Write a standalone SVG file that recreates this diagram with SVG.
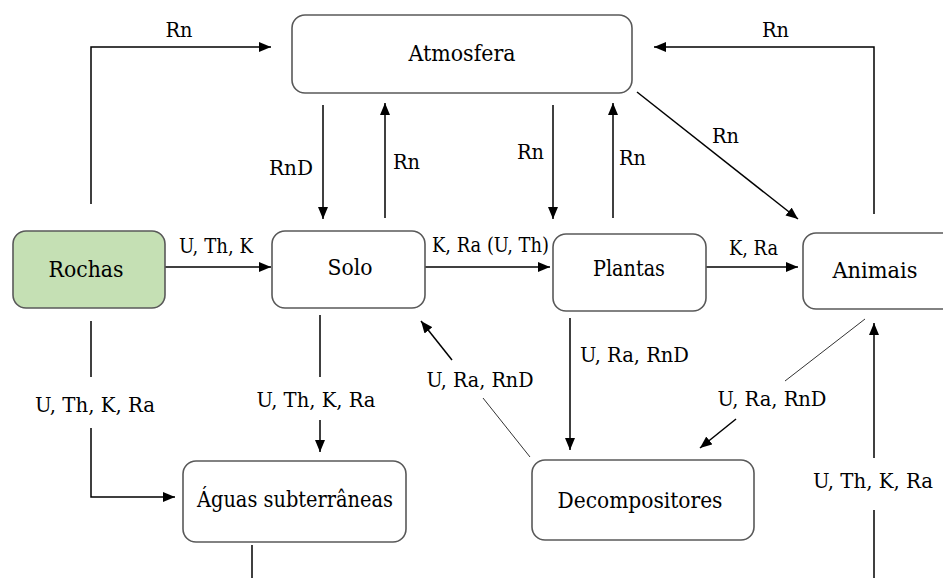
<svg xmlns="http://www.w3.org/2000/svg" width="943" height="578" viewBox="0 0 943 578">
<style>
  .box { fill: #ffffff; stroke: #595959; stroke-width: 1.6; }
  .rock { fill: #c5e0b4; stroke: #595959; stroke-width: 1.6; }
  .node { font-size: 23px; fill: #000; text-anchor: middle; }
  .lbl { font-size: 20px; fill: #000; }
  .c { text-anchor: middle; }
  .ln { fill: none; stroke: #000; stroke-width: 1.5; }
  .thin { fill: none; stroke: #333; stroke-width: 1; }
  .arr { marker-end: url(#ah); }
</style>
<defs>
  <marker id="ah" markerUnits="userSpaceOnUse" markerWidth="12" markerHeight="10" refX="12" refY="5" orient="auto">
    <path d="M0,0 L12,5 L0,10 z" fill="#000"/>
  </marker>
</defs>
<rect width="943" height="578" fill="#ffffff"/>

<g id="connectors" font-family="DejaVu Serif, serif">
  <polyline class="ln arr" points="91,204 91,47 271,47"/>
  <line class="ln arr" x1="323" y1="105" x2="323" y2="219"/>
  <line class="ln arr" x1="385" y1="218" x2="385" y2="103"/>
  <line class="ln arr" x1="553" y1="105" x2="553" y2="219"/>
  <line class="ln arr" x1="613" y1="218" x2="613" y2="103"/>
  <line class="ln arr" x1="637" y1="92" x2="798" y2="219"/>
  <polyline class="ln arr" points="874,214 874,47 654,47"/>
  <line class="ln arr" x1="165" y1="267" x2="271" y2="267"/>
  <line class="ln arr" x1="425" y1="267" x2="550" y2="267"/>
  <line class="ln arr" x1="706" y1="267" x2="798" y2="267"/>
  <line class="ln" x1="91" y1="321" x2="91" y2="377"/>
  <polyline class="ln arr" points="91,428 91,497 175,497"/>
  <line class="ln" x1="320" y1="315" x2="320" y2="377"/>
  <line class="ln arr" x1="320" y1="420" x2="320" y2="452"/>
  <line class="ln" x1="252" y1="545" x2="252" y2="578"/>
  <line class="ln arr" x1="570" y1="318" x2="570" y2="450"/>
  <line class="thin" x1="530" y1="457" x2="483" y2="398"/>
  <line class="ln arr" x1="452" y1="360" x2="421" y2="321"/>
  <line class="thin" x1="865" y1="319" x2="785" y2="381"/>
  <line class="ln arr" x1="736" y1="419" x2="700" y2="448"/>
  <line class="ln" x1="874" y1="578" x2="874" y2="510"/>
  <line class="ln arr" x1="874" y1="458" x2="874" y2="323"/>

  <text class="lbl c" x="179" y="37" textLength="27" lengthAdjust="spacingAndGlyphs">Rn</text>
  <text class="lbl c" x="291" y="175" textLength="44" lengthAdjust="spacingAndGlyphs">RnD</text>
  <text class="lbl" x="393" y="169" textLength="27" lengthAdjust="spacingAndGlyphs">Rn</text>
  <text class="lbl" x="517" y="159" textLength="27" lengthAdjust="spacingAndGlyphs">Rn</text>
  <text class="lbl" x="619" y="165" textLength="27" lengthAdjust="spacingAndGlyphs">Rn</text>
  <text class="lbl" x="712" y="143" textLength="27" lengthAdjust="spacingAndGlyphs">Rn</text>
  <text class="lbl" x="762" y="37" textLength="27" lengthAdjust="spacingAndGlyphs">Rn</text>
  <text class="lbl" x="179" y="253" textLength="74" lengthAdjust="spacingAndGlyphs">U, Th, K</text>
  <text class="lbl" x="432" y="252" textLength="117" lengthAdjust="spacingAndGlyphs">K, Ra (U, Th)</text>
  <text class="lbl" x="729" y="255" textLength="49" lengthAdjust="spacingAndGlyphs">K, Ra</text>
  <text class="lbl" x="580" y="362" textLength="109" lengthAdjust="spacingAndGlyphs">U, Ra, RnD</text>
  <text class="lbl c" x="95" y="412" textLength="120" lengthAdjust="spacingAndGlyphs">U, Th, K, Ra</text>
  <text class="lbl c" x="316" y="407" textLength="119" lengthAdjust="spacingAndGlyphs">U, Th, K, Ra</text>
  <text class="lbl c" x="480" y="387" textLength="107" lengthAdjust="spacingAndGlyphs">U, Ra, RnD</text>
  <text class="lbl c" x="772" y="406" textLength="109" lengthAdjust="spacingAndGlyphs">U, Ra, RnD</text>
  <text class="lbl c" x="873" y="488" textLength="120" lengthAdjust="spacingAndGlyphs">U, Th, K, Ra</text>
</g>

<g font-family="DejaVu Serif, serif">
<g id="atmosfera">
  <rect class="box" x="292" y="15" width="340" height="78" rx="13"/>
  <text class="node" x="462" y="61" textLength="107" lengthAdjust="spacingAndGlyphs">Atmosfera</text>
</g>
<g id="rochas">
  <rect class="rock" x="13" y="231" width="152" height="77" rx="13"/>
  <text class="node" x="86" y="277" textLength="75" lengthAdjust="spacingAndGlyphs">Rochas</text>
</g>
<g id="solo">
  <rect class="box" x="272" y="231" width="153" height="77" rx="13"/>
  <text class="node" x="350" y="275" textLength="45" lengthAdjust="spacingAndGlyphs">Solo</text>
</g>
<g id="plantas">
  <rect class="box" x="553" y="234" width="153" height="77" rx="13"/>
  <text class="node" x="629" y="276" textLength="72" lengthAdjust="spacingAndGlyphs">Plantas</text>
</g>
<g id="animais">
  <rect class="box" x="803" y="233" width="160" height="76" rx="13"/>
  <text class="node" x="875" y="278" textLength="85" lengthAdjust="spacingAndGlyphs">Animais</text>
</g>
<g id="aguas">
  <rect class="box" x="183" y="461" width="223" height="81" rx="13"/>
  <text class="node" x="295" y="507" textLength="196" lengthAdjust="spacingAndGlyphs">Águas subterrâneas</text>
</g>
<g id="decompositores">
  <rect class="box" x="532" y="460" width="222" height="80" rx="13"/>
  <text class="node" x="640" y="508" textLength="165" lengthAdjust="spacingAndGlyphs">Decompositores</text>
</g>
</g>
</svg>
